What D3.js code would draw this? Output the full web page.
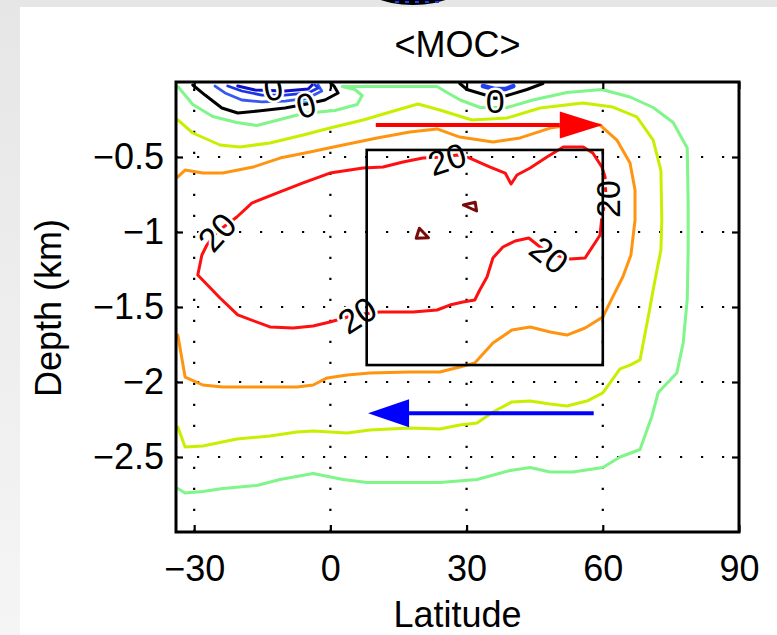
<!DOCTYPE html>
<html>
<head>
<meta charset="utf-8">
<script src="https://cdn.jsdelivr.net/npm/d3@7"></script>
<style>
  html, body { margin: 0; padding: 0; background: #fff; }
  svg { display: block; }
  text { font-family: "Liberation Sans", Arial, Helvetica, sans-serif; fill: #000; }
</style>
</head>
<body>
<svg id="chart" width="777" height="635"></svg>
<script>
// ---------------- data ----------------
const title = "<MOC>";
const xLabel = "Latitude";
const yLabel = "Depth (km)";
const latTicks = [-30, 0, 30, 60, 90];
const depthTicks = [-0.5, -1, -1.5, -2, -2.5];
const latDomain = [-34, 90];
const depthDomain = [0, -3];

// contour lines, [latitude, depth km]
const contour5 = [[-33.6,-2.71],[-32.0,-2.74],[-28.1,-2.73],[-23.7,-2.71],[-16.2,-2.69],[-11.1,-2.65],[-3.8,-2.61],[2.8,-2.65],[8.1,-2.67],[17.5,-2.67],[24.1,-2.67],[32.3,-2.65],[39.6,-2.59],[44.0,-2.57],[48.4,-2.6],[53.4,-2.6],[60.0,-2.57],[63.8,-2.5],[68.2,-2.45],[70.8,-2.23],[72.2,-2.07],[76.3,-1.94],[77.7,-1.74],[78.6,-1.45],[78.8,-1.12],[78.8,-0.81],[78.6,-0.44],[75.5,-0.27],[71.1,-0.17],[66.0,-0.1],[59.8,-0.05],[52.1,-0.07],[44.6,-0.12],[38.9,-0.17],[33.0,-0.17],[28.6,-0.12],[25.7,-0.07],[23.5,-0.03],[2.6,-0.03],[5.4,-0.05],[7.0,-0.09],[5.9,-0.15],[1.0,-0.19],[-6.0,-0.21],[-11.1,-0.25],[-16.2,-0.29],[-20.6,-0.27],[-25.9,-0.23],[-30.3,-0.15],[-33.6,-0.03]];
const contour10 = [[-33.6,-0.253],[-30.3,-0.34],[-24.3,-0.42],[-19.9,-0.433],[-13.3,-0.407],[-6.0,-0.353],[-0.1,-0.307],[7.2,-0.253],[14.7,-0.187],[19.3,-0.147],[24.1,-0.187],[31.2,-0.253],[38.9,-0.24],[46.2,-0.173],[55.6,-0.14],[62.2,-0.167],[67.5,-0.233],[71.1,-0.387],[72.8,-0.59],[73.0,-0.92],[72.8,-1.12],[71.5,-1.32],[70.0,-1.567],[68.2,-1.853],[66.0,-1.887],[63.8,-1.913],[60.0,-2.073],[56.5,-2.127],[52.1,-2.16],[48.4,-2.147],[44.0,-2.127],[40.0,-2.133],[35.8,-2.2],[32.3,-2.273],[28.5,-2.287],[24.1,-2.313],[17.5,-2.307],[8.7,-2.32],[3.7,-2.34],[-3.8,-2.327],[-7.4,-2.333],[-13.3,-2.36],[-20.6,-2.38],[-28.1,-2.427],[-32.0,-2.433],[-33.6,-2.3]];
const contour15 = [[-33.6,-0.633],[-32.0,-0.587],[-28.1,-0.607],[-23.7,-0.607],[-17.0,-0.567],[-11.1,-0.507],[-4.5,-0.467],[2.8,-0.42],[10.3,-0.373],[17.5,-0.333],[23.5,-0.313],[28.5,-0.367],[35.8,-0.4],[41.8,-0.373],[48.4,-0.307],[55.6,-0.273],[59.4,-0.287],[63.1,-0.387],[66.0,-0.54],[67.1,-0.72],[67.1,-0.92],[66.2,-1.153],[64.4,-1.3],[62.2,-1.433],[60.0,-1.567],[56.1,-1.64],[52.1,-1.687],[48.4,-1.667],[44.0,-1.633],[40.0,-1.653],[35.8,-1.74],[31.8,-1.873],[28.5,-1.9],[24.1,-1.933],[17.5,-1.933],[8.7,-1.94],[3.7,-1.953],[-0.7,-1.973],[-3.8,-2.02],[-7.3,-2.033],[-15.5,-2.033],[-23.7,-2.033],[-28.1,-2.02],[-32.0,-1.967],[-33.6,-1.687]];
const contour20 = [[-29.2,-1.287],[-28.3,-1.153],[-27.2,-1.087],[-25.0,-1.0],[-20.6,-0.9],[-17.3,-0.807],[-11.1,-0.733],[-6.0,-0.673],[-0.1,-0.607],[7.2,-0.573],[11.6,-0.567],[16.0,-0.533],[20.4,-0.507],[25.2,-0.5],[27.9,-0.487],[30.7,-0.507],[35.2,-0.567],[38.5,-0.607],[39.8,-0.68],[41.1,-0.62],[44.0,-0.573],[47.7,-0.5],[51.3,-0.433],[55.7,-0.433],[57.8,-0.473],[59.8,-0.567],[60.5,-0.633],[60.7,-0.773],[59.8,-0.9],[59.4,-1.02],[58.7,-1.053],[56.1,-1.173],[52.8,-1.18],[47.9,-1.14],[46.2,-1.1],[43.7,-1.04],[40.7,-1.06],[38.0,-1.1],[35.8,-1.173],[34.5,-1.3],[32.9,-1.387],[31.8,-1.453],[29.2,-1.467],[26.3,-1.487],[23.5,-1.52],[18.2,-1.533],[10.9,-1.533],[5.4,-1.553],[-0.1,-1.6],[-3.8,-1.627],[-8.2,-1.64],[-13.3,-1.633],[-20.4,-1.553],[-24.3,-1.44],[-29.2,-1.287]];
const contour25a = [[19.6,-0.975],[18.9,-1.042],[21.6,-1.038],[19.6,-0.975]];
const contour25b = [[29.3,-0.82],[31.9,-0.802],[32.2,-0.86],[29.3,-0.82]];
const contour0a = [[-30.3,-0.02],[-27.6,-0.087],[-23.9,-0.173],[-20.4,-0.207],[-15.9,-0.193],[-10.0,-0.173],[-5.2,-0.147],[-1.2,-0.12],[1.7,-0.073],[0.8,-0.027],[0.1,-0.007]];
const contour0b = [[28.5,-0.01],[30.1,-0.05],[34.5,-0.09],[36.3,-0.11],[38.9,-0.09],[43.3,-0.05],[46.8,-0.01]];
const contourNeg1 = [[-25.4,-0.027],[-23.2,-0.073],[-19.5,-0.12],[-15.1,-0.133],[-10.0,-0.127],[-4.9,-0.107],[-1.9,-0.06],[-2.7,-0.02]];
const contourNeg2 = [[-22.6,-0.027],[-19.5,-0.06],[-15.1,-0.087],[-10.0,-0.087],[-4.9,-0.073],[-2.7,-0.04],[-3.4,-0.02]];
const contourNeg3 = [[-20.4,-0.027],[-16.6,-0.053],[-10.0,-0.06],[-4.9,-0.047],[-4.0,-0.02]];
const contourNeg1b = [[33.6,-0.027],[36.2,-0.047],[38.5,-0.047],[40.3,-0.027]];
const contourCyanA = [[-6.0,-0.13],[-4.0,-0.147]];
const contourCyanB = [[35.2,-0.107],[38.1,-0.107]];

// contour labels
const labelText  = ["0", "0", "0", "20", "20", "20", "20", "20"];
const labelLat   = [-5.4, -12.6, 36.3, -25.0, 25.7, 61.1, 48.2, 5.9];
const labelDepth = [-0.153, -0.04, -0.127, -1.0, -0.513, -0.78, -1.153, -1.553];
const labelAngle = [-15, -10, 0, -48, -18, -90, 38, -33];

// box and arrows
const boxLat = [8, 60];
const boxDepth = [-0.453, -1.887];
const upperArrow = [[10, -0.287], [60, -0.287]];   // tail, tip
const lowerArrow = [[58, -2.209], [8.3, -2.209]];  // tail, tip

// ---------------- drawing ----------------
const svg = d3.select("#chart");
const W = 777, H = 635;
const FONT = "'Liberation Sans', Arial, Helvetica, sans-serif";
const x = d3.scaleLinear().domain(latDomain).range([176, 739]);
const y = d3.scaleLinear().domain(depthDomain).range([82, 532]);

// background
const defs = svg.append("defs");
const grad = defs.append("linearGradient").attr("id", "sideGrad")
  .attr("x1", 0).attr("y1", 0).attr("x2", 0).attr("y2", 1);
grad.append("stop").attr("offset", "0%").attr("stop-color", "#e6e6e6");
grad.append("stop").attr("offset", "100%").attr("stop-color", "#f5f5f5");
svg.append("rect").attr("width", W).attr("height", H).attr("fill", "#e6e6e6");
svg.append("rect").attr("x", 0).attr("y", 0).attr("width", 20).attr("height", H).attr("fill", "url(#sideGrad)");
svg.append("rect").attr("x", 20).attr("y", 7).attr("width", W - 20).attr("height", H - 7).attr("fill", "#fff");
// fragment of the figure above
const topClip = defs.append("clipPath").attr("id", "topClip");
topClip.append("rect").attr("x", 0).attr("y", 0).attr("width", W).attr("height", 6);
const frag = svg.append("g").attr("clip-path", "url(#topClip)");
frag.append("ellipse").attr("cx", 413).attr("cy", -22).attr("rx", 56).attr("ry", 27).attr("fill", "#000");
[395, 405, 415, 425, 435].forEach(cx => frag.append("rect").attr("x", cx).attr("y", 1).attr("width", 4).attr("height", 2).attr("fill", "#1a3cff"));

const clip = defs.append("clipPath").attr("id", "plotClip");
clip.append("rect").attr("x", 176).attr("y", 82).attr("width", 563).attr("height", 450);

// grid (dotted)
const grid = svg.append("g");
latTicks.filter(d => d > latDomain[0] && d < latDomain[1]).forEach(d => {
  grid.append("line").attr("x1", x(d)).attr("x2", x(d)).attr("y1", 532).attr("y2", 82)
    .attr("stroke", "#000").attr("stroke-width", 2.2).attr("stroke-dasharray", "2.2 18.8");
});
depthTicks.forEach(d => {
  grid.append("line").attr("x1", 176).attr("x2", 739).attr("y1", y(d)).attr("y2", y(d))
    .attr("stroke", "#000").attr("stroke-width", 2.2).attr("stroke-dasharray", "2.2 18.8");
});

// contours
const line = d3.line().x(d => x(d[0])).y(d => y(d[1]));
const cg = svg.append("g").attr("clip-path", "url(#plotClip)").attr("fill", "none")
  .attr("stroke-linejoin", "round").attr("stroke-linecap", "round");
const contours = [
  [contour5, "#7ff58a", 3],
  [contour10, "#c6f000", 3],
  [contour15, "#ff9410", 3],
  [contour20, "#ff1010", 3],
  [contour25a, "#7a0a0a", 3],
  [contour25b, "#7a0a0a", 3],
  [contourNeg1, "#3658f0", 2.8],
  [contourNeg2, "#1a36e8", 2.8],
  [contourNeg3, "#1010c8", 3],
  [contourNeg1b, "#2040f0", 4.5],
  [contourCyanA, "#40b8ff", 2.8],
  [contourCyanB, "#40b8ff", 2.8],
  [contour0a, "#000", 3],
  [contour0b, "#000", 3]
];
contours.forEach(([pts, col, w]) => {
  cg.append("path").attr("d", line(pts)).attr("stroke", col).attr("stroke-width", w);
});

// contour labels
const lg = svg.append("g").attr("clip-path", "url(#plotClip)");
labelText.forEach((t, i) => {
  const px = x(labelLat[i]), py = y(labelDepth[i]);
  lg.append("text").attr("transform", `translate(${px},${py}) rotate(${labelAngle[i]})`)
    .attr("text-anchor", "middle").attr("dy", "0.36em")
    .attr("font-size", 34)
    .attr("stroke", "#fff").attr("stroke-width", 5).attr("paint-order", "stroke")
    .attr("stroke-linejoin", "round")
    .text(t);
});

// box
svg.append("rect")
  .attr("x", x(boxLat[0])).attr("y", y(boxDepth[0]))
  .attr("width", x(boxLat[1]) - x(boxLat[0])).attr("height", y(boxDepth[1]) - y(boxDepth[0]))
  .attr("fill", "none").attr("stroke", "#000").attr("stroke-width", 2.6);

// arrows
function arrow(a, col, headLen, headHalf) {
  const [t0, t1] = a;
  const x0 = x(t0[0]), y0 = y(t0[1]), x1 = x(t1[0]), y1 = y(t1[1]);
  const dir = Math.sign(x1 - x0);
  const xb = x1 - dir * headLen;
  svg.append("line").attr("x1", x0).attr("y1", y0).attr("x2", xb).attr("y2", y1)
    .attr("stroke", col).attr("stroke-width", 4);
  svg.append("path")
    .attr("d", `M${x1},${y1}L${xb},${y1 - headHalf}L${xb},${y1 + headHalf}Z`)
    .attr("fill", col);
}
arrow(upperArrow, "#ff0000", 43, 13.5);
arrow(lowerArrow, "#0000ff", 41, 14);

// axes
const fs = 36;
const fmt = d3.format("~g");
const xAxis = d3.axisBottom(x).tickValues(latTicks).tickFormat(fmt).tickSize(-7).tickSizeOuter(0).tickPadding(23);
const gx = svg.append("g").attr("transform", "translate(0,532)").call(xAxis);
const yAxis = d3.axisLeft(y).tickValues(depthTicks).tickFormat(fmt).tickSize(-7).tickSizeOuter(0).tickPadding(12);
const gy = svg.append("g").attr("transform", "translate(176,0)").call(yAxis);
const xTop = d3.axisTop(x).tickValues(latTicks).tickSize(-7).tickSizeOuter(0).tickFormat("");
const gxt = svg.append("g").attr("transform", "translate(0,82)").call(xTop);
const yRight = d3.axisRight(y).tickValues(depthTicks).tickSize(-7).tickSizeOuter(0).tickFormat("");
const gyr = svg.append("g").attr("transform", "translate(739,0)").call(yRight);
[gx, gy, gxt, gyr].forEach(g => {
  g.select(".domain").remove();
  g.selectAll(".tick line").attr("stroke", "#000").attr("stroke-width", 2.2);
  g.selectAll(".tick text").attr("font-size", fs).attr("font-family", FONT).attr("fill", "#000");
});
// frame
svg.append("rect").attr("x", 176).attr("y", 82).attr("width", 563).attr("height", 450)
  .attr("fill", "none").attr("stroke", "#000").attr("stroke-width", 3);

// titles
svg.append("text").attr("x", 457.5).attr("y", 57).attr("text-anchor", "middle")
  .attr("font-size", 36).text(title);
svg.append("text").attr("x", 457.5).attr("y", 627).attr("text-anchor", "middle")
  .attr("font-size", 36).text(xLabel);
svg.append("text").attr("transform", "translate(61,308) rotate(-90)").attr("text-anchor", "middle")
  .attr("font-size", 36).text(yLabel);
</script>
</body>
</html>
